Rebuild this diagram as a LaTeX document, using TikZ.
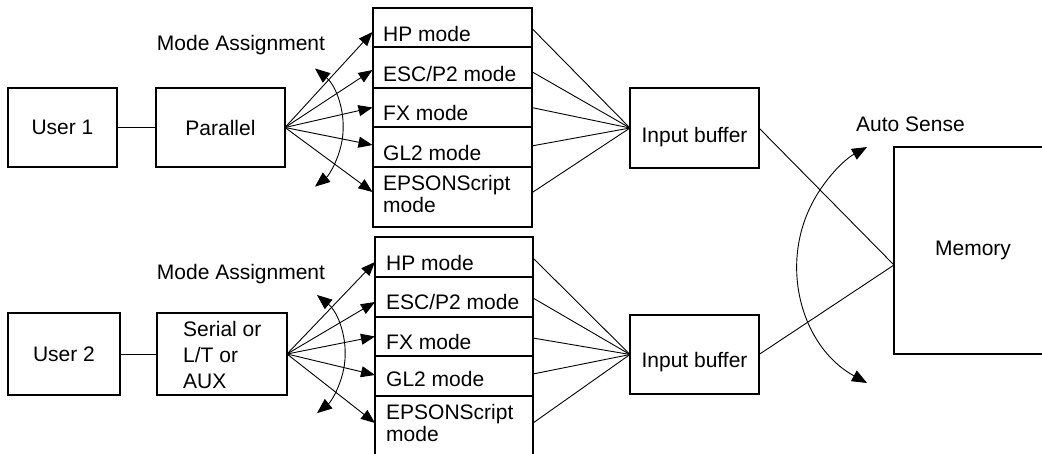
\documentclass[tikz,border=0pt]{standalone}
\usepackage{fontspec}
\setmainfont{Liberation Sans}
\usetikzlibrary{arrows.meta,calc}
\begin{document}
\begin{tikzpicture}[x=1pt,y=-1pt,
  box/.style={draw,line width=2pt,inner sep=0pt,outer sep=0pt,font=\fontsize{21}{26}\selectfont},
  lbl/.style={inner sep=0pt,anchor=base west,font=\fontsize{21}{22}\selectfont},
  txt/.style={inner sep=0pt,font=\fontsize{21}{26}\selectfont},
  conn/.style={line width=0.9pt},
  arr/.style={conn,-{Triangle[length=14pt,width=11pt]}},
  dbl/.style={conn,{Triangle[length=15pt,width=12pt]}-{Triangle[length=15pt,width=12pt]}}]
\useasboundingbox (0,0) rectangle (1042,453);
\clip (0,0) rectangle (1042,453);
\fill[white] (0,0) rectangle (1042,453);

% ---------- top row ----------
\node[box,minimum width=109pt,minimum height=79pt] (u1) at (62.5,127.5) {User 1};
\node[box,minimum width=129pt,minimum height=79pt] (par) at (220.5,127.5) {Parallel};
\node[txt,anchor=base] (ma1) at (241,50) {Mode Assignment};

\node[box,minimum width=159pt,minimum height=39pt] (hp1) at (452,27.5) {};
\node[box,minimum width=159pt,minimum height=41pt] (esc1) at (452,67.5) {};
\node[box,minimum width=159pt,minimum height=39pt] (fx1) at (452,107.5) {};
\node[box,minimum width=159pt,minimum height=40pt] (gl1) at (452,147) {};
\node[box,minimum width=159pt,minimum height=60pt] (ep1) at (452,197) {};
\node[lbl] (hp1t) at (383,41.7) {HP mode};
\node[lbl] (esc1t) at (383,81.7) {ESC/P2 mode};
\node[lbl] (fx1t) at (383,120.7) {FX mode};
\node[lbl] (gl1t) at (383,160) {GL2 mode};
\node[lbl] (ep1t) at (383,190) {EPSONScript};
\node[lbl] (ep1m) at (383,212) {mode};

\node[box,minimum width=129pt,minimum height=80pt] (ib1) at (694.5,128) {};
\node[txt,anchor=base] (ib1t) at ($(ib1.center)+(0,14)$) {Input buffer};

\draw[conn] (u1) -- (par);
\draw[arr] (par.east) -- ($(hp1.west)+(0,4.5)$);
\draw[arr] (par.east) -- ($(esc1.west)+(0,2.5)$);
\draw[arr] (par.east) -- (fx1.west);
\draw[arr] (par.east) -- ($(gl1.west)+(0,-2)$);
\draw[arr] (par.east) -- ($(ep1.west)+(0,-5)$);
\draw[dbl] ($(par.east)+(30,-59)$) arc[start angle=-51,end angle=51,radius=76];

\draw[conn] ($(hp1.east)+(0,0.5)$) -- (ib1.west);
\draw[conn] ($(esc1.east)+(0,4)$) -- (ib1.west);
\draw[conn] (fx1.east) -- (ib1.west);
\draw[conn] ($(gl1.east)+(0,-1)$) -- (ib1.west);
\draw[conn] ($(ep1.east)+(0,-4)$) -- (ib1.west);

% ---------- bottom row ----------
\node[box,minimum width=112pt,minimum height=82pt] (u2) at (64,354) {User 2};
\node[box,minimum width=130pt,minimum height=82pt] (ser) at (222,354) {};
\node[txt,align=left,anchor=north west] (sert) at (183,321.5) {Serial or\\L/T or\\AUX};
\node[txt,anchor=base] (ma2) at (241,279) {Mode Assignment};

\node[box,minimum width=158pt,minimum height=40pt] (hp2) at (454,257) {};
\node[box,minimum width=158pt,minimum height=40pt] (esc2) at (454,297) {};
\node[box,minimum width=158pt,minimum height=39pt] (fx2) at (454,336.5) {};
\node[box,minimum width=158pt,minimum height=40pt] (gl2) at (454,376) {};
\node[box,minimum width=158pt,minimum height=64pt] (ep2) at (454,428) {};
\node[lbl] (hp2t) at (386,270) {HP mode};
\node[lbl] (esc2t) at (386,309) {ESC/P2 mode};
\node[lbl] (fx2t) at (386,349) {FX mode};
\node[lbl] (gl2t) at (386,386.7) {GL2 mode};
\node[lbl] (ep2t) at (386,419) {EPSONScript};
\node[lbl] (ep2m) at (386,441) {mode};

\node[box,minimum width=129pt,minimum height=79pt] (ib2) at (694.5,354.5) {};
\node[txt,anchor=base] (ib2t) at ($(ib2.center)+(0,13)$) {Input buffer};

\draw[conn] (u2) -- (ser);
\draw[arr] (ser.east) -- ($(hp2.west)+(0,5)$);
\draw[arr] (ser.east) -- ($(esc2.west)+(0,5)$);
\draw[arr] (ser.east) -- (fx2.west);
\draw[arr] (ser.east) -- ($(gl2.west)+(0,-1)$);
\draw[arr] (ser.east) -- ($(ep2.west)+(0,-5)$);
\draw[dbl] ($(ser.east)+(30,-59)$) arc[start angle=-51,end angle=51,radius=76];

\draw[conn] ($(hp2.east)+(0,1)$) -- (ib2.west);
\draw[conn] ($(esc2.east)+(0,1)$) -- (ib2.west);
\draw[conn] ($(fx2.east)+(0,1.5)$) -- (ib2.west);
\draw[conn] ($(gl2.east)+(0,-2)$) -- (ib2.west);
\draw[conn] ($(ep2.east)+(0,-5)$) -- (ib2.west);

% ---------- memory ----------
\node[box,minimum width=158pt,minimum height=207pt] (mem) at (973,250.5) {Memory};
\coordinate (memin) at ($(mem.west)+(0,14.5)$);
\draw[conn] (ib1.east) -- (memin);
\draw[conn] (ib2.east) -- (memin);
\draw[dbl] ($(mem.west)+(-27,132.5)$) arc[start angle=118.7,end angle=241.3,radius=134.5];
\node[txt,anchor=base] (as) at (910.5,131.7) {Auto Sense};
\end{tikzpicture}
\end{document}
